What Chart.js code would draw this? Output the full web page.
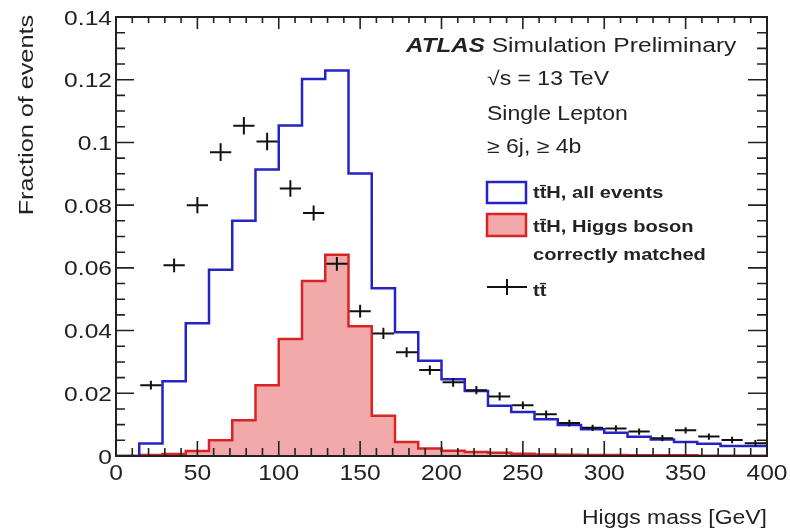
<!DOCTYPE html>
<html>
<head>
<meta charset="utf-8">
<script src="https://cdn.jsdelivr.net/npm/chart.js@4/dist/chart.umd.min.js"></script>
<style>
  body { margin: 0; background: #fff; }
  #wrap { width: 790px; height: 532px; position: relative; }
</style>
</head>
<body>
<div id="wrap"><canvas id="chart"></canvas></div>
<script>
// Histogram binning (28 bins from 0 to 400 GeV)
const binEdges = [0, 14.29, 28.57, 42.86, 57.14, 71.43, 85.71, 100, 114.29, 128.57, 142.86,
  157.14, 171.43, 185.71, 200, 214.29, 228.57, 242.86, 257.14, 271.43, 285.71, 300,
  314.29, 328.57, 342.86, 357.14, 371.43, 385.71, 400];

// ttH, all events
const tthAll = [0, 0.004, 0.0238, 0.0423, 0.0594, 0.075, 0.0914, 0.1054, 0.1202, 0.1229,
  0.0901, 0.0535, 0.0395, 0.0304, 0.0245, 0.0207, 0.016, 0.014, 0.0117, 0.0099, 0.0085,
  0.0074, 0.0061, 0.0053, 0.0045, 0.0039, 0.0032, 0.0032];

// ttH, Higgs boson correctly matched
const tthMatched = [0, 0.0003, 0.0006, 0.0016, 0.005, 0.0114, 0.0226, 0.0373, 0.0558, 0.0642,
  0.0414, 0.0128, 0.0045, 0.0024, 0.0017, 0.0013, 0.001, 0.0007, 0.0005, 0.0004, 0.0003,
  0.0003, 0.0002, 0.0002, 0.0002, 0.0001, 0.0001, 0.0001];

// ttbar points and their vertical errors
const ttbar = [null, 0.0226, 0.0608, 0.080, 0.0969, 0.1053, 0.1003, 0.0853, 0.0775, 0.0613,
  0.0462, 0.0391, 0.0331, 0.0274, 0.0235, 0.021, 0.019, 0.0162, 0.0133, 0.0105, 0.009,
  0.0088, 0.0078, 0.0057, 0.0082, 0.0062, 0.0051, 0.0041];
const ttbarErr = [0, 0.0014, 0.0022, 0.0026, 0.0028, 0.0028, 0.0028, 0.0026, 0.0024, 0.0022,
  0.002, 0.0018, 0.0016, 0.0015, 0.0014, 0.0013, 0.0013, 0.0012, 0.0012, 0.0011, 0.001,
  0.001, 0.001, 0.001, 0.001, 0.001, 0.001, 0.001];

const xTickLabels = ['0', '50', '100', '150', '200', '250', '300', '350', '400'];
const yTickLabels = ['0', '0.02', '0.04', '0.06', '0.08', '0.1', '0.12', '0.14'];

const BLUE = '#2424c4';
const RED = '#d82424';
const PINK = '#f2a9a9';
const INK = '#222';
const FONT = '"Liberation Sans", Arial, sans-serif';

function stepPoints(vals) {
    const pts = vals.map((v, i) => ({ x: binEdges[i], y: v }));
    pts.push({ x: binEdges[vals.length], y: vals[vals.length - 1] });
    return pts;
}

// text helper: ROOT's Helvetica is wider than Arial, so stretch along the text direction
function txt(ctx, s, x, y, size, opts = {}) {
    const sx = opts.stretch || 1.18;
    ctx.save();
    ctx.font = `${opts.weight || ''} ${size}px ${FONT}`;
    ctx.fillStyle = INK;
    ctx.textBaseline = 'alphabetic';
    ctx.translate(x, y);
    if (opts.rotate) ctx.rotate(opts.rotate);
    ctx.scale(sx, 1);
    ctx.textAlign = opts.align || 'left';
    ctx.fillText(s, 0, 0);
    const w = ctx.measureText(s).width * sx;
    ctx.restore();
    return w;
}

const rootFrame = {
    id: 'rootFrame',
    afterDatasetsDraw(chart) {
        const { ctx, scales: { x, y } } = chart;

        // ttbar crosses: bin-wide horizontal bar + vertical error
        ctx.save();
        ctx.strokeStyle = '#111';
        ctx.lineWidth = 2;
        ttbar.forEach((v, i) => {
            if (v === null) return;
            const cx = x.getPixelForValue((binEdges[i] + binEdges[i + 1]) / 2);
            const cy = y.getPixelForValue(v);
            ctx.beginPath();
            ctx.moveTo(x.getPixelForValue(binEdges[i]) + 1, cy);
            ctx.lineTo(x.getPixelForValue(binEdges[i + 1]) - 1, cy);
            ctx.moveTo(cx, y.getPixelForValue(v - ttbarErr[i]));
            ctx.lineTo(cx, y.getPixelForValue(v + ttbarErr[i]));
            ctx.stroke();
        });
        ctx.restore();
    },
    afterDraw(chart) {
        const { ctx, chartArea: a, scales: { x, y } } = chart;
        ctx.save();
        ctx.strokeStyle = INK;
        ctx.lineWidth = 2;
        ctx.strokeRect(a.left, a.top, a.right - a.left, a.bottom - a.top);

        // ticks pointing inward on all four sides
        ctx.lineWidth = 1.6;
        ctx.beginPath();
        for (let v = 0; v <= 400; v += 10) {
            const px = x.getPixelForValue(v);
            const major = v % 50 === 0;
            ctx.moveTo(px, a.bottom); ctx.lineTo(px, a.bottom - (major ? 15 : 8));
            ctx.moveTo(px, a.top); ctx.lineTo(px, a.top + (major ? 12 : 6));
        }
        for (let k = 0; k <= 28; k++) {
            const py = y.getPixelForValue(k * 0.005);
            const major = k % 4 === 0;
            ctx.moveTo(a.left, py); ctx.lineTo(a.left + (major ? 18 : 9), py);
            ctx.moveTo(a.right, py); ctx.lineTo(a.right - (major ? 19 : 10), py);
        }
        ctx.stroke();
        ctx.restore();

        // tick labels
        xTickLabels.forEach(l => txt(ctx, l, x.getPixelForValue(+l), 480, 22, { align: 'center', stretch: 1.12 }));
        yTickLabels.forEach(l => txt(ctx, l, a.left - 4, y.getPixelForValue(+l) + 7.5, 20.5, { align: 'right', stretch: 1.2 }));

        // axis titles
        txt(ctx, 'Higgs mass [GeV]', a.right, 524, 20.5, { align: 'right', stretch: 1.12 });
        txt(ctx, 'Fraction of events', 33, a.top - 2, 21, { align: 'right', rotate: -Math.PI / 2, stretch: 1.2 });

        // ATLAS label block
        const wA = txt(ctx, 'ATLAS', 406, 52, 20.5, { weight: 'italic bold', stretch: 1.18 });
        txt(ctx, ' Simulation Preliminary', 406 + wA, 52, 20.5, { stretch: 1.2 });
        txt(ctx, '\u221As = 13 TeV', 487, 85, 19.5, { stretch: 1.18 });
        txt(ctx, 'Single Lepton', 487, 120, 19.5, { stretch: 1.18 });
        txt(ctx, '\u2265 6j, \u2265 4b', 487, 153, 19.5, { stretch: 1.18 });

        // legend
        ctx.save();
        ctx.lineWidth = 2.5;
        ctx.strokeStyle = BLUE;
        ctx.strokeRect(487, 182, 39, 21);
        ctx.fillStyle = PINK;
        ctx.fillRect(487, 214, 39, 22);
        ctx.strokeStyle = RED;
        ctx.strokeRect(487, 214, 39, 22);
        ctx.strokeStyle = '#111';
        ctx.lineWidth = 2;
        ctx.beginPath();
        ctx.moveTo(487, 287); ctx.lineTo(527, 287);
        ctx.moveTo(507, 279); ctx.lineTo(507, 295);
        ctx.stroke();
        ctx.restore();
        txt(ctx, 'tt\u0304H, all events', 533, 198, 17, { weight: 'bold', stretch: 1.18 });
        txt(ctx, 'tt\u0304H, Higgs boson', 533, 232, 17, { weight: 'bold', stretch: 1.18 });
        txt(ctx, 'correctly matched', 533, 260, 17, { weight: 'bold', stretch: 1.18 });
        txt(ctx, 'tt\u0304', 533, 296, 17, { weight: 'bold', stretch: 1.18 });
    }
};

new Chart(document.getElementById('chart'), {
    type: 'line',
    data: {
        datasets: [
            {
                label: 'ttH, all events',
                data: stepPoints(tthAll),
                stepped: true,
                borderColor: BLUE,
                borderWidth: 2.5,
                fill: false,
                order: 1
            },
            {
                label: 'ttH, Higgs boson correctly matched',
                data: stepPoints(tthMatched),
                stepped: true,
                borderColor: RED,
                backgroundColor: PINK,
                borderWidth: 2.5,
                fill: 'origin',
                order: 2
            }
        ]
    },
    options: {
        responsive: true,
        maintainAspectRatio: false,
        animation: false,
        layout: { padding: { left: 116, right: 23, top: 17, bottom: 76 } },
        elements: { point: { radius: 0 } },
        plugins: { legend: { display: false }, tooltip: { enabled: false } },
        scales: {
            x: { type: 'linear', min: 0, max: 400, display: false },
            y: { type: 'linear', min: 0, max: 0.14, display: false }
        }
    },
    plugins: [rootFrame]
});
</script>
</body>
</html>
